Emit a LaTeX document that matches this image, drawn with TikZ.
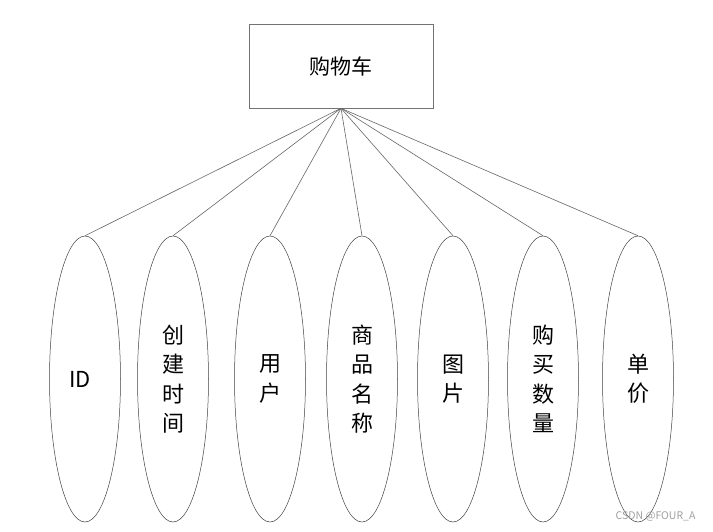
\documentclass[tikz,border=0pt]{standalone}
\usepackage{fontspec}
\setmainfont{Noto Sans CJK SC}
\usetikzlibrary{shapes.geometric}

\begin{document}
\begin{tikzpicture}[
  x=1pt, y=-1pt,
  ent/.style={rectangle, draw=gray!90!black, line width=0.6pt, minimum width=184pt, minimum height=84pt, anchor=center, font=\fontsize{21}{24}\selectfont},
  attr/.style={ellipse, draw=black!75, line width=0.5pt, minimum width=71pt, minimum height=286pt, inner sep=0pt, anchor=center, align=center, font=\fontsize{22}{29.5}\selectfont},
  link/.style={draw=gray!80!black, line width=0.6pt},
  wmark/.style={font=\fontsize{10.5}{12}\selectfont, text=gray!75, anchor=east}
]
\useasboundingbox (0,0) rectangle (713,531);
% Entity
\node[ent] (cart) at (341, 66) {购物车\hspace{26pt}};
% Attributes
\node[attr] (id)    at (85, 379)  {ID\hspace{10pt}};
\node[attr] (ctime) at (173, 379) {创\\建\\时\\间};
\node[attr] (user)  at (270, 379) {用\\户};
\node[attr] (gname) at (362, 379) {商\\品\\名\\称};
\node[attr] (pic)   at (453, 379) {图\\片};
\node[attr] (qty)   at (543, 379) {购\\买\\数\\量};
\node[attr] (price) at (638, 379) {单\\价};
% Links
\foreach \a in {id, ctime, user, gname, pic, qty, price}
  \draw[link] (cart.south) -- (\a.north);
% Watermark
\node[wmark] (wm) at (699, 516) {CSDN @FOUR\_A};
\end{tikzpicture}
\end{document}
